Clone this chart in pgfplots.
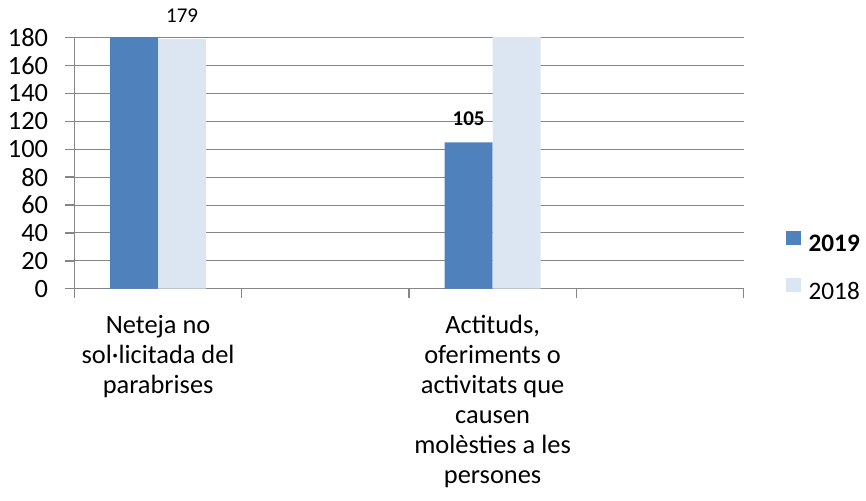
\documentclass[border=0pt]{standalone}
\usepackage{fontspec}
\setmainfont{Carlito}
\usepackage{pgfplots}
\pgfplotsset{compat=1.18}
\definecolor{c2019}{HTML}{4F81BD}
\definecolor{c2018}{HTML}{DCE6F2}
\definecolor{gridgray}{HTML}{868686}
\begin{document}
\begin{tikzpicture}
\begin{axis}[
    at={(0,0)}, anchor=south west,
    scale only axis,
    width=334.5pt, height=125.5pt,
    xmin=0, xmax=4, ymin=0, ymax=180,
    xtick={0,...,4}, xticklabels={,,,,},
    ytick={0,20,...,180},
    axis x line*=bottom, axis y line*=left,
    ymajorgrids,
    grid style={gridgray, line width=0.5pt},
    axis line style={gridgray, line width=0.7pt},
    tick style={gridgray, line width=0.7pt},
    tick align=outside, major tick length=4.5pt,
    /pgf/number format/assume math mode=true,
    yticklabel style={font=\fontsize{13.2}{15}\selectfont, inner sep=0pt, xshift=-8.5pt},
    extra x ticks={0.5,2.5},
    extra x tick labels={{Neteja no\\sol·licitada del\\parabrises},
        {Actituds,\\oferiments o\\activitats que\\causen\\molèsties a les\\persones}},
    extra x tick style={major tick length=0pt,
        xticklabel style={align=center, font=\fontsize{13.2}{15}\selectfont,
            anchor=north, inner sep=0pt, yshift=-13pt}},
    ybar=0pt, bar width=0.287,
    nodes near coords,
    every node near coord/.append style={anchor=base, yshift=8.2pt, inner sep=0pt,
        font=\fontsize{10.5}{12}\selectfont, text=black},
    legend style={at={(1.0635,0.231)}, anchor=north west, draw=none, fill=none,
        inner sep=0pt, font=\fontsize{12.6}{14}\selectfont,
        row sep=11.8pt,
        nodes={inner sep=0pt},
        /tikz/every odd column/.append style={column sep=3.65pt}},
    legend cell align=left,
    legend image code/.code={\fill[#1] (0pt,0pt) rectangle (7.5pt,7pt);},
]
\addplot[fill=c2019, draw=none,
    every node near coord/.append style={font=\fontsize{10.5}{12}\selectfont\bfseries}]
    coordinates {(0.5,250) (2.5,105)};
\addplot[fill=c2018, draw=none]
    coordinates {(0.5,179) (2.5,250)};
\legend{\textbf{2019},2018}
\end{axis}
\pgfresetboundingbox
\path (-37.25pt,-106.15pt) rectangle (395.75pt,144.35pt);
\end{tikzpicture}
\end{document}
